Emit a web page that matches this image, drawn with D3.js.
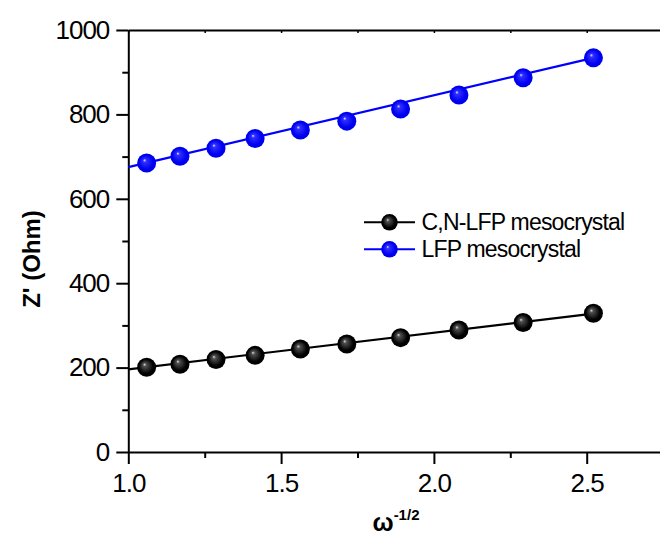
<!DOCTYPE html>
<html>
<head>
<meta charset="utf-8">
<script src="https://cdn.jsdelivr.net/npm/d3@7"></script>
<style>
  body { margin: 0; background: #fff; }
  text { font-family: "Liberation Sans", Arial, sans-serif; }
</style>
</head>
<body>
<div id="chart"></div>
<script>
// values
var xVals = [1.060, 1.169, 1.287, 1.415, 1.563, 1.715, 1.891, 2.082, 2.292, 2.522];
var lfpVals = [685, 701, 720, 743, 763, 784, 813, 846, 887, 934];
var cnlfpVals = [201, 208, 219, 229, 244, 256, 271, 289, 307, 329];
// fitted lines, end points
var lfpFit = [[1.0, 675], [2.522, 934]];
var cnlfpFit = [[1.0, 196], [2.522, 328]];
var xMajor = [1.0, 1.5, 2.0, 2.5];
var xMinor = [1.25, 1.75, 2.25, 2.75];
var yMajor = [0, 200, 400, 600, 800, 1000];
var yMinor = [100, 300, 500, 700, 900];
var seriesNames = ["C,N-LFP mesocrystal", "LFP mesocrystal"];

var width = 660, height = 538;

var svg = d3.select("#chart").append("svg")
    .attr("width", width)
    .attr("height", height);

var x = d3.scaleLinear().domain([1.0, 2.75]).range([128.3, 663.1]);
var y = d3.scaleLinear().domain([0, 1000]).range([452, 30]);

// sphere gradients
var defs = svg.append("defs");
function sphere(id, light, mid, dark) {
    var g = defs.append("radialGradient")
        .attr("id", id)
        .attr("cx", "50%").attr("cy", "50%").attr("r", "50%")
        .attr("fx", "38%").attr("fy", "35%");
    g.append("stop").attr("offset", "0%").attr("stop-color", light);
    g.append("stop").attr("offset", "18%").attr("stop-color", mid);
    g.append("stop").attr("offset", "75%").attr("stop-color", dark);
}
sphere("ballBlack", "#e0e0e0", "#505050", "#000000");
sphere("ballBlue", "#e8e8ff", "#3030ff", "#0000f0");

// axes
function styleAxis(g) {
    g.selectAll("path").attr("stroke", "#000").attr("stroke-width", 2);
    g.selectAll("line").attr("stroke", "#000").attr("stroke-width", 2);
    g.selectAll("text").attr("fill", "#000").style("font-size", "26px")
        .style("letter-spacing", "-1px");
}

var xAxis = svg.append("g")
    .attr("transform", "translate(0," + y(0) + ")")
    .call(d3.axisBottom(x).tickValues(xMajor).tickFormat(d3.format(".1f"))
        .tickSize(12).tickSizeOuter(0))
    .call(styleAxis);
xAxis.selectAll("text").attr("dy", null).attr("y", 40);

svg.append("g")
    .attr("transform", "translate(0," + y(0) + ")")
    .call(d3.axisBottom(x).tickValues(xMinor).tickFormat("").tickSize(6).tickSizeOuter(0))
    .call(styleAxis)
    .select("path").remove();

svg.append("g")
    .attr("transform", "translate(0," + y(1000) + ")")
    .call(d3.axisTop(x).tickValues(xMajor.concat(xMinor)).tickFormat("").tickSize(-3).tickSizeOuter(0))
    .call(styleAxis)
    .selectAll("line").attr("stroke-width", 1.5);

svg.append("g")
    .attr("transform", "translate(" + x(1.0) + ",0)")
    .call(d3.axisLeft(y).tickValues(yMajor).tickFormat(d3.format("d"))
        .tickSize(12).tickSizeOuter(0).tickPadding(7))
    .call(styleAxis);

svg.append("g")
    .attr("transform", "translate(" + x(1.0) + ",0)")
    .call(d3.axisLeft(y).tickValues(yMinor).tickFormat("").tickSize(6).tickSizeOuter(0))
    .call(styleAxis)
    .select("path").remove();

// axis titles
svg.append("text")
    .attr("transform", "translate(40," + 259 + ") rotate(-90)")
    .attr("text-anchor", "middle")
    .style("font-size", "24px")
    .style("font-weight", "bold")
    .text("Z' (Ohm)");

var xt = svg.append("text")
    .attr("x", 396)
    .attr("y", 531)
    .attr("text-anchor", "middle")
    .style("font-size", "25px")
    .style("font-weight", "bold");
xt.append("tspan").text("ω");
xt.append("tspan").attr("dy", -11).style("font-size", "15px").text("-1/2");

// data
var series = [
    {name: seriesNames[0], values: cnlfpVals, fit: cnlfpFit, color: "#000000", fill: "url(#ballBlack)"},
    {name: seriesNames[1], values: lfpVals, fit: lfpFit, color: "#0000ff", fill: "url(#ballBlue)"}
];

var line = d3.line()
    .x(d => x(d[0]))
    .y(d => y(d[1]));

series.forEach(function(s) {
    svg.append("path")
        .attr("d", line(s.fit))
        .attr("fill", "none")
        .attr("stroke", s.color)
        .attr("stroke-width", 2.2);

    svg.selectAll(null)
        .data(xVals.map((v, i) => [v, s.values[i]]))
        .enter()
        .append("circle")
        .attr("cx", d => x(d[0]))
        .attr("cy", d => y(d[1]))
        .attr("r", 9.5)
        .attr("fill", s.fill);
});

// legend
var legend = svg.append("g");
series.forEach(function(s, i) {
    var ly = 222.3 + i * 27;
    legend.append("line")
        .attr("x1", 364).attr("x2", 415)
        .attr("y1", ly).attr("y2", ly)
        .attr("stroke", s.color)
        .attr("stroke-width", 2);
    legend.append("circle")
        .attr("cx", 389.5).attr("cy", ly)
        .attr("r", 8.3)
        .attr("fill", s.fill);
    legend.append("text")
        .attr("x", 421.5)
        .attr("y", ly + 8)
        .style("font-size", "23px")
        .style("letter-spacing", "-0.8px")
        .text(s.name);
});
</script>
</body>
</html>
